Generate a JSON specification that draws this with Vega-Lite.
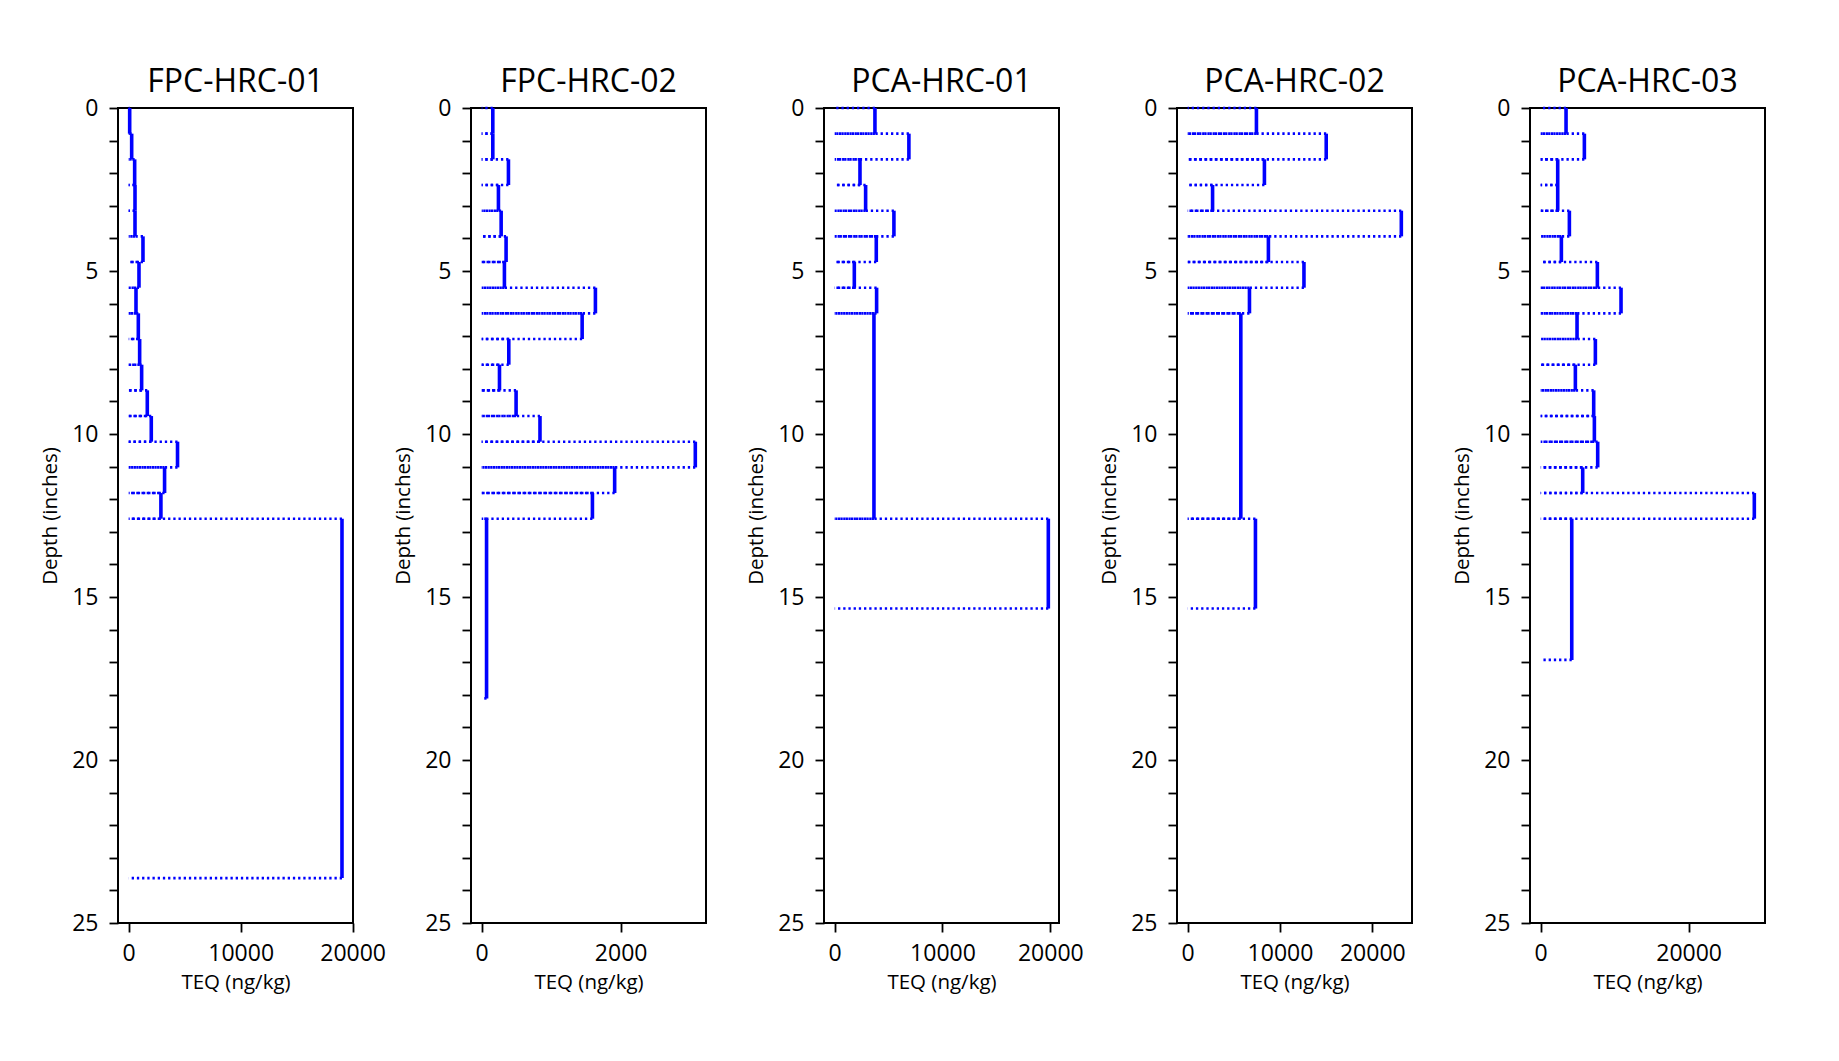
{
  "$schema": "https://vega.github.io/schema/vega-lite/v6.json",
  "padding": {"left": 39, "top": 64, "right": 10, "bottom": 10},
  "background": "white",
  "datasets": {
    "d": [
      {"well": "FPC-HRC-01", "top": 0, "bottom": 0.787, "teq": 89},
      {"well": "FPC-HRC-01", "top": 0.787, "bottom": 1.575, "teq": 267},
      {"well": "FPC-HRC-01", "top": 1.575, "bottom": 2.362, "teq": 534},
      {"well": "FPC-HRC-01", "top": 2.362, "bottom": 3.15, "teq": 564},
      {"well": "FPC-HRC-01", "top": 3.15, "bottom": 3.937, "teq": 564},
      {"well": "FPC-HRC-01", "top": 3.937, "bottom": 4.724, "teq": 1276},
      {"well": "FPC-HRC-01", "top": 4.724, "bottom": 5.512, "teq": 920},
      {"well": "FPC-HRC-01", "top": 5.512, "bottom": 6.299, "teq": 653},
      {"well": "FPC-HRC-01", "top": 6.299, "bottom": 7.087, "teq": 861},
      {"well": "FPC-HRC-01", "top": 7.087, "bottom": 7.874, "teq": 979},
      {"well": "FPC-HRC-01", "top": 7.874, "bottom": 8.661, "teq": 1157},
      {"well": "FPC-HRC-01", "top": 8.661, "bottom": 9.449, "teq": 1662},
      {"well": "FPC-HRC-01", "top": 9.449, "bottom": 10.236, "teq": 2018},
      {"well": "FPC-HRC-01", "top": 10.236, "bottom": 11.024, "teq": 4362},
      {"well": "FPC-HRC-01", "top": 11.024, "bottom": 11.811, "teq": 3205},
      {"well": "FPC-HRC-01", "top": 11.811, "bottom": 12.598, "teq": 2878},
      {"well": "FPC-HRC-01", "top": 12.598, "bottom": 23.622, "teq": 19050},

      {"well": "FPC-HRC-02", "top": 0, "bottom": 0.787, "teq": 160},
      {"well": "FPC-HRC-02", "top": 0.787, "bottom": 1.575, "teq": 160},
      {"well": "FPC-HRC-02", "top": 1.575, "bottom": 2.362, "teq": 385},
      {"well": "FPC-HRC-02", "top": 2.362, "bottom": 3.15, "teq": 241},
      {"well": "FPC-HRC-02", "top": 3.15, "bottom": 3.937, "teq": 280},
      {"well": "FPC-HRC-02", "top": 3.937, "bottom": 4.724, "teq": 351},
      {"well": "FPC-HRC-02", "top": 4.724, "bottom": 5.512, "teq": 327},
      {"well": "FPC-HRC-02", "top": 5.512, "bottom": 6.299, "teq": 1637},
      {"well": "FPC-HRC-02", "top": 6.299, "bottom": 7.087, "teq": 1446},
      {"well": "FPC-HRC-02", "top": 7.087, "bottom": 7.874, "teq": 390},
      {"well": "FPC-HRC-02", "top": 7.874, "bottom": 8.661, "teq": 256},
      {"well": "FPC-HRC-02", "top": 8.661, "bottom": 9.449, "teq": 495},
      {"well": "FPC-HRC-02", "top": 9.449, "bottom": 10.236, "teq": 839},
      {"well": "FPC-HRC-02", "top": 10.236, "bottom": 11.024, "teq": 3075},
      {"well": "FPC-HRC-02", "top": 11.024, "bottom": 11.811, "teq": 1914},
      {"well": "FPC-HRC-02", "top": 11.811, "bottom": 12.598, "teq": 1594},
      {"well": "FPC-HRC-02", "top": 12.598, "bottom": 18.11, "teq": 70},

      {"well": "PCA-HRC-01", "top": 0, "bottom": 0.787, "teq": 3734},
      {"well": "PCA-HRC-01", "top": 0.787, "bottom": 1.575, "teq": 6883},
      {"well": "PCA-HRC-01", "top": 1.575, "bottom": 2.362, "teq": 2346},
      {"well": "PCA-HRC-01", "top": 2.362, "bottom": 3.15, "teq": 2870},
      {"well": "PCA-HRC-01", "top": 3.15, "bottom": 3.937, "teq": 5494},
      {"well": "PCA-HRC-01", "top": 3.937, "bottom": 4.724, "teq": 3858},
      {"well": "PCA-HRC-01", "top": 4.724, "bottom": 5.512, "teq": 1821},
      {"well": "PCA-HRC-01", "top": 5.512, "bottom": 6.299, "teq": 3889},
      {"well": "PCA-HRC-01", "top": 6.299, "bottom": 12.598, "teq": 3642},
      {"well": "PCA-HRC-01", "top": 12.598, "bottom": 15.354, "teq": 19815},

      {"well": "PCA-HRC-02", "top": 0, "bottom": 0.787, "teq": 7448},
      {"well": "PCA-HRC-02", "top": 0.787, "bottom": 1.575, "teq": 15007},
      {"well": "PCA-HRC-02", "top": 1.575, "bottom": 2.362, "teq": 8312},
      {"well": "PCA-HRC-02", "top": 2.362, "bottom": 3.15, "teq": 2696},
      {"well": "PCA-HRC-02", "top": 3.15, "bottom": 3.937, "teq": 23142},
      {"well": "PCA-HRC-02", "top": 3.937, "bottom": 4.724, "teq": 8744},
      {"well": "PCA-HRC-02", "top": 4.724, "bottom": 5.512, "teq": 12595},
      {"well": "PCA-HRC-02", "top": 5.512, "bottom": 6.299, "teq": 6692},
      {"well": "PCA-HRC-02", "top": 6.299, "bottom": 12.598, "teq": 5756},
      {"well": "PCA-HRC-02", "top": 12.598, "bottom": 15.354, "teq": 7340},

      {"well": "PCA-HRC-03", "top": 0, "bottom": 0.787, "teq": 3428},
      {"well": "PCA-HRC-03", "top": 0.787, "bottom": 1.575, "teq": 5905},
      {"well": "PCA-HRC-03", "top": 1.575, "bottom": 2.362, "teq": 2302},
      {"well": "PCA-HRC-03", "top": 2.362, "bottom": 3.15, "teq": 2302},
      {"well": "PCA-HRC-03", "top": 3.15, "bottom": 3.937, "teq": 3878},
      {"well": "PCA-HRC-03", "top": 3.937, "bottom": 4.724, "teq": 2797},
      {"well": "PCA-HRC-03", "top": 4.724, "bottom": 5.512, "teq": 7662},
      {"well": "PCA-HRC-03", "top": 5.512, "bottom": 6.299, "teq": 10860},
      {"well": "PCA-HRC-03", "top": 6.299, "bottom": 7.087, "teq": 4914},
      {"well": "PCA-HRC-03", "top": 7.087, "bottom": 7.874, "teq": 7392},
      {"well": "PCA-HRC-03", "top": 7.874, "bottom": 8.661, "teq": 4689},
      {"well": "PCA-HRC-03", "top": 8.661, "bottom": 9.449, "teq": 7166},
      {"well": "PCA-HRC-03", "top": 9.449, "bottom": 10.236, "teq": 7257},
      {"well": "PCA-HRC-03", "top": 10.236, "bottom": 11.024, "teq": 7707},
      {"well": "PCA-HRC-03", "top": 11.024, "bottom": 11.811, "teq": 5680},
      {"well": "PCA-HRC-03", "top": 11.811, "bottom": 12.598, "teq": 28878},
      {"well": "PCA-HRC-03", "top": 12.598, "bottom": 16.929, "teq": 4200}
    ]
  },
  "data": {"name": "d"},
  "spacing": 118,
  "bounds": "flush",
  "hconcat": [
    {
      "width": 235, "height": 815,
      "title": {"text": "FPC-HRC-01"},
      "transform": [{"filter": "datum.well === 'FPC-HRC-01'"}],
      "encoding": {
        "x": {"field": "teq", "type": "quantitative", "title": "TEQ (ng/kg)", "scale": {"domain": [-954, 20034], "nice": false, "zero": false}, "axis": {"values": [0, 10000, 20000], "format": "d"}},
        "y": {"field": "top", "type": "quantitative", "title": "Depth (inches)",
              "scale": {"domain": [0, 25], "reverse": true, "nice": false, "zero": false},
              "axis": {"values": [0,1,2,3,4,5,6,7,8,9,10,11,12,13,14,15,16,17,18,19,20,21,22,23,24,25],
                       "labelExpr": "datum.value % 5 === 0 ? datum.label : ''",
                       "encode": {"ticks": {"update": {"x2": [{"test": "datum.value % 5 === 0", "value": -9}, {"value": -5}]}}}}}
      },
      "layer": [
        {"mark": {"type": "rule", "color": "#0000ff", "strokeWidth": 2.6, "strokeDash": [2.3, 2.9]},
         "encoding": {"x2": {"datum": 0}}},
        {"mark": {"type": "rule", "color": "#0000ff", "strokeWidth": 2.6, "strokeDash": [2.3, 2.9]},
         "encoding": {"x2": {"datum": 0}, "y": {"field": "bottom", "type": "quantitative"}}},
        {"mark": {"type": "rule", "color": "#0000ff", "strokeWidth": 3.6},
         "encoding": {"y2": {"field": "bottom"}}}
      ]
    },
    {
      "width": 235, "height": 815,
      "title": {"text": "FPC-HRC-02"},
      "transform": [{"filter": "datum.well === 'FPC-HRC-02'"}],
      "encoding": {
        "x": {"field": "teq", "type": "quantitative", "title": "TEQ (ng/kg)", "scale": {"domain": [-154, 3229], "nice": false, "zero": false}, "axis": {"values": [0, 2000], "format": "d"}},
        "y": {"field": "top", "type": "quantitative", "title": "Depth (inches)",
              "scale": {"domain": [0, 25], "reverse": true, "nice": false, "zero": false},
              "axis": {"values": [0,1,2,3,4,5,6,7,8,9,10,11,12,13,14,15,16,17,18,19,20,21,22,23,24,25],
                       "labelExpr": "datum.value % 5 === 0 ? datum.label : ''",
                       "encode": {"ticks": {"update": {"x2": [{"test": "datum.value % 5 === 0", "value": -9}, {"value": -5}]}}}}}
      },
      "layer": [
        {"mark": {"type": "rule", "color": "#0000ff", "strokeWidth": 2.6, "strokeDash": [2.3, 2.9]},
         "encoding": {"x2": {"datum": 0}}},
        {"mark": {"type": "rule", "color": "#0000ff", "strokeWidth": 2.6, "strokeDash": [2.3, 2.9]},
         "encoding": {"x2": {"datum": 0}, "y": {"field": "bottom", "type": "quantitative"}}},
        {"mark": {"type": "rule", "color": "#0000ff", "strokeWidth": 3.6},
         "encoding": {"y2": {"field": "bottom"}}}
      ]
    },
    {
      "width": 235, "height": 815,
      "title": {"text": "PCA-HRC-01"},
      "transform": [{"filter": "datum.well === 'PCA-HRC-01'"}],
      "encoding": {
        "x": {"field": "teq", "type": "quantitative", "title": "TEQ (ng/kg)", "scale": {"domain": [-991, 20806], "nice": false, "zero": false}, "axis": {"values": [0, 10000, 20000], "format": "d"}},
        "y": {"field": "top", "type": "quantitative", "title": "Depth (inches)",
              "scale": {"domain": [0, 25], "reverse": true, "nice": false, "zero": false},
              "axis": {"values": [0,1,2,3,4,5,6,7,8,9,10,11,12,13,14,15,16,17,18,19,20,21,22,23,24,25],
                       "labelExpr": "datum.value % 5 === 0 ? datum.label : ''",
                       "encode": {"ticks": {"update": {"x2": [{"test": "datum.value % 5 === 0", "value": -9}, {"value": -5}]}}}}}
      },
      "layer": [
        {"mark": {"type": "rule", "color": "#0000ff", "strokeWidth": 2.6, "strokeDash": [2.3, 2.9]},
         "encoding": {"x2": {"datum": 0}}},
        {"mark": {"type": "rule", "color": "#0000ff", "strokeWidth": 2.6, "strokeDash": [2.3, 2.9]},
         "encoding": {"x2": {"datum": 0}, "y": {"field": "bottom", "type": "quantitative"}}},
        {"mark": {"type": "rule", "color": "#0000ff", "strokeWidth": 3.6},
         "encoding": {"y2": {"field": "bottom"}}}
      ]
    },
    {
      "width": 235, "height": 815,
      "title": {"text": "PCA-HRC-02"},
      "transform": [{"filter": "datum.well === 'PCA-HRC-02'"}],
      "encoding": {
        "x": {"field": "teq", "type": "quantitative", "title": "TEQ (ng/kg)", "scale": {"domain": [-1157, 24299], "nice": false, "zero": false}, "axis": {"values": [0, 10000, 20000], "format": "d"}},
        "y": {"field": "top", "type": "quantitative", "title": "Depth (inches)",
              "scale": {"domain": [0, 25], "reverse": true, "nice": false, "zero": false},
              "axis": {"values": [0,1,2,3,4,5,6,7,8,9,10,11,12,13,14,15,16,17,18,19,20,21,22,23,24,25],
                       "labelExpr": "datum.value % 5 === 0 ? datum.label : ''",
                       "encode": {"ticks": {"update": {"x2": [{"test": "datum.value % 5 === 0", "value": -9}, {"value": -5}]}}}}}
      },
      "layer": [
        {"mark": {"type": "rule", "color": "#0000ff", "strokeWidth": 2.6, "strokeDash": [2.3, 2.9]},
         "encoding": {"x2": {"datum": 0}}},
        {"mark": {"type": "rule", "color": "#0000ff", "strokeWidth": 2.6, "strokeDash": [2.3, 2.9]},
         "encoding": {"x2": {"datum": 0}, "y": {"field": "bottom", "type": "quantitative"}}},
        {"mark": {"type": "rule", "color": "#0000ff", "strokeWidth": 3.6},
         "encoding": {"y2": {"field": "bottom"}}}
      ]
    },
    {
      "width": 235, "height": 815,
      "title": {"text": "PCA-HRC-03"},
      "transform": [{"filter": "datum.well === 'PCA-HRC-03'"}],
      "encoding": {
        "x": {"field": "teq", "type": "quantitative", "title": "TEQ (ng/kg)", "scale": {"domain": [-1444, 30322], "nice": false, "zero": false}, "axis": {"values": [0, 20000], "format": "d"}},
        "y": {"field": "top", "type": "quantitative", "title": "Depth (inches)",
              "scale": {"domain": [0, 25], "reverse": true, "nice": false, "zero": false},
              "axis": {"values": [0,1,2,3,4,5,6,7,8,9,10,11,12,13,14,15,16,17,18,19,20,21,22,23,24,25],
                       "labelExpr": "datum.value % 5 === 0 ? datum.label : ''",
                       "encode": {"ticks": {"update": {"x2": [{"test": "datum.value % 5 === 0", "value": -9}, {"value": -5}]}}}}}
      },
      "layer": [
        {"mark": {"type": "rule", "color": "#0000ff", "strokeWidth": 2.6, "strokeDash": [2.3, 2.9]},
         "encoding": {"x2": {"datum": 0}}},
        {"mark": {"type": "rule", "color": "#0000ff", "strokeWidth": 2.6, "strokeDash": [2.3, 2.9]},
         "encoding": {"x2": {"datum": 0}, "y": {"field": "bottom", "type": "quantitative"}}},
        {"mark": {"type": "rule", "color": "#0000ff", "strokeWidth": 3.6},
         "encoding": {"y2": {"field": "bottom"}}}
      ]
    }
  ],
  "config": {
    "font": "Open Sans",
    "view": {"stroke": "black", "strokeWidth": 2},
    "axis": {"domain": false, "grid": false, "tickColor": "black", "tickWidth": 1.8,
             "labelColor": "black", "labelFontSize": 23, "labelFont": "Open Sans",
             "titleColor": "black", "titleFontSize": 20.5, "titleFontWeight": "normal", "titleFont": "Open Sans",
             "labelFlush": false, "labelOverlap": false, "tickSize": 9},
    "axisX": {"labelPadding": 10, "titlePadding": 7},
    "axisY": {"labelPadding": 11, "titlePadding": 11},
    "title": {"fontSize": 32, "fontWeight": "normal", "color": "black", "font": "Open Sans", "baseline": "alphabetic", "offset": -1.5}
  }
}
